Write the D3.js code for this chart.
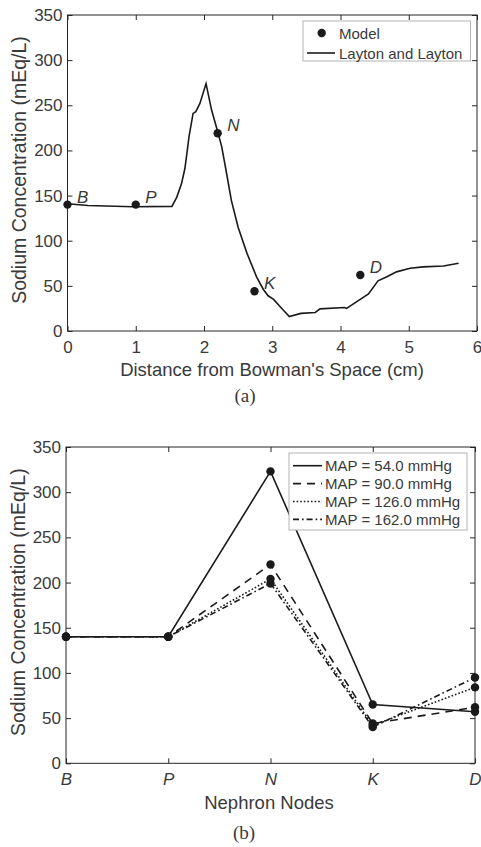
<!DOCTYPE html>
<html>
<head>
<meta charset="utf-8">
<script src="https://cdn.jsdelivr.net/npm/d3@7"></script>
<style>
  body { margin: 0; background: #fff; }
  svg { display: block; }
  text { font-family: "Liberation Sans", Arial, Helvetica, sans-serif; fill: #3a3a3a; }
</style>
</head>
<body>
<div id="chart"></div>
<script>
// ---- data: panel (a) ----
var laytonX = [0, 0.3, 0.96, 1.53, 1.6, 1.67, 1.72, 1.75, 1.78, 1.84, 1.88, 1.94, 2.03, 2.11, 2.2, 2.26, 2.33, 2.4, 2.5, 2.63, 2.77, 2.87, 2.94, 3.02, 3.15, 3.25, 3.42, 3.63, 3.7, 4.06, 4.09, 4.25, 4.41, 4.55, 4.68, 4.82, 5.02, 5.21, 5.51, 5.73];
var laytonY = [141, 139, 137.6, 138, 148, 163, 180, 197, 215, 241, 243, 252, 274, 245, 221, 204, 175, 145, 115, 86, 60, 46, 39, 35, 24, 16, 19.5, 20.5, 24.5, 26, 25, 33, 41, 55.5, 60, 65.5, 69.5, 71, 72, 75];
var modelNodes = ["B", "P", "N", "K", "D"];
var modelX = [0, 1, 2.2, 2.74, 4.29];
var modelY = [140, 140, 219, 44, 62];
var xTicksA = [0, 1, 2, 3, 4, 5, 6];
var yTicks = [0, 50, 100, 150, 200, 250, 300, 350];

// ---- data: panel (b) ----
var mapLabels = ["MAP = 54.0 mmHg", "MAP = 90.0 mmHg", "MAP = 126.0 mmHg", "MAP = 162.0 mmHg"];
var map54 = [140, 140, 323, 65, 57];
var map90 = [140, 140, 220, 44, 62];
var map126 = [140, 140, 204, 42, 84];
var map162 = [140, 140, 199, 40, 95];

var svgWidth = 481;
var svgHeight = 847;
var ink = "#1a1a1a";
var axisColor = "#262626";

var svg = d3.select("#chart")
    .append("svg")
    .attr("width", svgWidth)
    .attr("height", svgHeight);

// draws the boxed MATLAB style frame with inward ticks on all four sides
function drawFrame(g, xScale, yScale, xTickVals, xFormat, italicX) {
    var w = xScale.range()[1] - xScale.range()[0];
    var h = yScale.range()[0] - yScale.range()[1];

    g.append("rect")
        .attr("x", 0).attr("y", 0)
        .attr("width", w).attr("height", h)
        .attr("fill", "none")
        .attr("stroke", axisColor)
        .attr("stroke-width", 1);

    var left = g.append("g")
        .call(d3.axisLeft(yScale).tickValues(yTicks).tickSize(-5).tickPadding(5));
    var right = g.append("g")
        .attr("transform", `translate(${w}, 0)`)
        .call(d3.axisRight(yScale).tickValues(yTicks).tickSize(-5).tickFormat(""));
    var bottom = g.append("g")
        .attr("transform", `translate(0, ${h})`)
        .call(d3.axisBottom(xScale).tickValues(xTickVals).tickSize(-5).tickPadding(10).tickFormat(xFormat));
    var top = g.append("g")
        .call(d3.axisTop(xScale).tickValues(xTickVals).tickSize(-5).tickFormat(""));

    [left, right, bottom, top].forEach(function(a) {
        a.select(".domain").remove();
        a.selectAll("line").attr("stroke", axisColor);
        a.selectAll("text")
            .attr("fill", "#3a3a3a")
            .attr("font-family", "Liberation Sans, Arial, sans-serif")
            .attr("font-size", "17px");
    });
    if (italicX) bottom.selectAll("text").style("font-style", "italic");
}

// ================= panel (a) =================
var mA = { left: 67.5, top: 15 };
var gA = svg.append("g").attr("transform", `translate(${mA.left}, ${mA.top})`);

var xA = d3.scaleLinear().domain([0, 6]).range([0, 477 - mA.left]);
var yA = d3.scaleLinear().domain([0, 350]).range([331 - mA.top, 0]);

drawFrame(gA, xA, yA, xTicksA, d3.format("d"), false);

var laytonLine = d3.line()
    .x(function(d, i) { return xA(laytonX[i]); })
    .y(function(d, i) { return yA(laytonY[i]); });

gA.append("path")
    .datum(laytonY)
    .attr("d", laytonLine)
    .attr("fill", "none")
    .attr("stroke", ink)
    .attr("stroke-width", 1.6);

gA.selectAll("circle.model")
    .data(modelY)
    .enter()
    .append("circle")
    .attr("class", "model")
    .attr("cx", function(d, i) { return xA(modelX[i]); })
    .attr("cy", function(d) { return yA(d); })
    .attr("r", 4.2)
    .attr("fill", ink);

gA.selectAll("text.node")
    .data(modelNodes)
    .enter()
    .append("text")
    .attr("class", "node")
    .attr("x", function(d, i) { return xA(modelX[i]) + 9.5; })
    .attr("y", function(d, i) { return yA(modelY[i]) - 2; })
    .attr("font-size", "17px")
    .style("font-style", "italic")
    .text(function(d) { return d; });

// legend (a)
var legA = svg.append("g").attr("transform", "translate(303, 21)");
legA.append("rect")
    .attr("width", 167.5).attr("height", 40)
    .attr("fill", "#fff").attr("stroke", "#b3b3b3").attr("stroke-width", 1);
legA.append("circle").attr("cx", 18.7).attr("cy", 12).attr("r", 4.2).attr("fill", ink);
legA.append("text").attr("x", 36).attr("y", 17.5).attr("font-size", "15px").text("Model");
legA.append("line").attr("x1", 4).attr("x2", 32).attr("y1", 32).attr("y2", 32)
    .attr("stroke", ink).attr("stroke-width", 1.6);
legA.append("text").attr("x", 36).attr("y", 37.5).attr("font-size", "15px").text("Layton and Layton");

svg.append("text")
    .attr("x", 272).attr("y", 376)
    .attr("text-anchor", "middle")
    .attr("font-size", "18.5px")
    .text("Distance from Bowman's Space (cm)");

svg.append("text")
    .attr("transform", `translate(26, ${(15 + 331) / 2 - 3}) rotate(-90)`)
    .attr("text-anchor", "middle")
    .attr("font-size", "19.5px")
    .text("Sodium Concentration (mEq/L)");

svg.append("text")
    .attr("x", 245).attr("y", 402)
    .attr("text-anchor", "middle")
    .style("font-family", "Liberation Serif, Times New Roman, serif")
    .attr("font-size", "19px")
    .text("(a)");

// ================= panel (b) =================
var mB = { left: 66, top: 447 };
var gB = svg.append("g").attr("transform", `translate(${mB.left}, ${mB.top})`);

var xB = d3.scalePoint().domain(modelNodes).range([0, 475 - mB.left]);
var yB = d3.scaleLinear().domain([0, 350]).range([763.3 - mB.top, 0]);

drawFrame(gB, xB, yB, modelNodes, function(d) { return d; }, true);

var series = [map54, map90, map126, map162];
var dashes = [null, "8,6", "1.6,2", "6,3,1.6,3"];

var mapLine = d3.line()
    .x(function(d, i) { return xB(modelNodes[i]); })
    .y(function(d) { return yB(d); });

series.forEach(function(s, k) {
    gB.append("path")
        .datum(s)
        .attr("d", mapLine)
        .attr("fill", "none")
        .attr("stroke", ink)
        .attr("stroke-width", 1.6)
        .attr("stroke-dasharray", dashes[k]);
});
series.forEach(function(s) {
    gB.append("g").selectAll("circle")
        .data(s)
        .enter()
        .append("circle")
        .attr("cx", function(d, i) { return xB(modelNodes[i]); })
        .attr("cy", function(d) { return yB(d); })
        .attr("r", 4.2)
        .attr("fill", ink);
});

// legend (b)
var legB = svg.append("g").attr("transform", "translate(289, 453)");
legB.append("rect")
    .attr("width", 178).attr("height", 77)
    .attr("fill", "#fff").attr("stroke", "#b3b3b3").attr("stroke-width", 1);
mapLabels.forEach(function(label, k) {
    var yy = 12.7 + k * 17.9;
    legB.append("line")
        .attr("x1", 4).attr("x2", 33).attr("y1", yy).attr("y2", yy)
        .attr("stroke", ink).attr("stroke-width", 1.6)
        .attr("stroke-dasharray", dashes[k]);
    legB.append("text")
        .attr("x", 36).attr("y", yy + 5.5)
        .attr("font-size", "15px")
        .text(label);
});

svg.append("text")
    .attr("x", 269).attr("y", 809)
    .attr("text-anchor", "middle")
    .attr("font-size", "18.5px")
    .text("Nephron Nodes");

svg.append("text")
    .attr("transform", `translate(25, ${(447 + 763.3) / 2 - 3}) rotate(-90)`)
    .attr("text-anchor", "middle")
    .attr("font-size", "19.5px")
    .text("Sodium Concentration (mEq/L)");

svg.append("text")
    .attr("x", 244).attr("y", 839)
    .attr("text-anchor", "middle")
    .style("font-family", "Liberation Serif, Times New Roman, serif")
    .attr("font-size", "19px")
    .text("(b)");
</script>
</body>
</html>
